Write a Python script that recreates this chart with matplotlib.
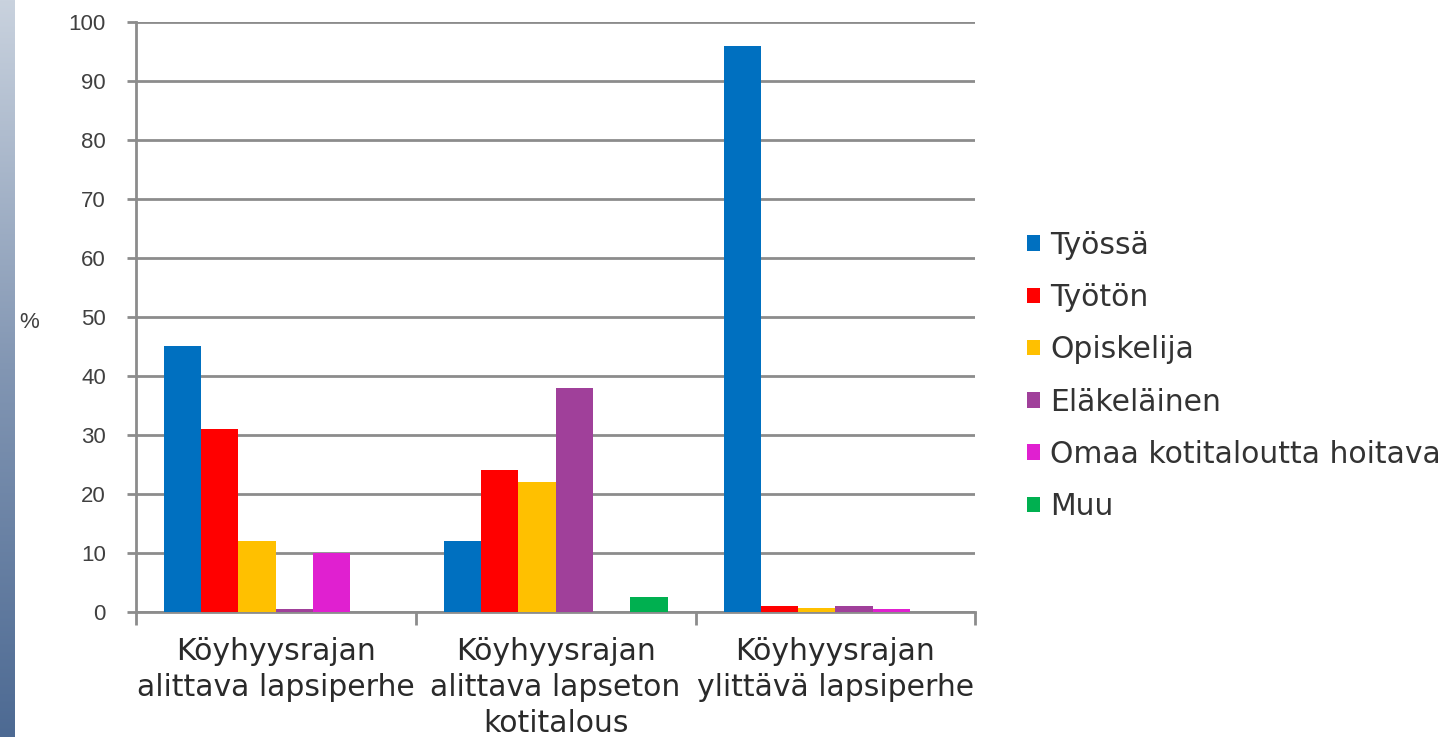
import numpy as np
import matplotlib.pyplot as plt
from matplotlib.colors import LinearSegmentedColormap

plt.rcParams['font.family'] = ['Liberation Sans', 'DejaVu Sans']

# data
categories = ["Köyhyysrajan\nalittava lapsiperhe",
              "Köyhyysrajan\nalittava lapseton\nkotitalous",
              "Köyhyysrajan\nylittävä lapsiperhe"]
series = ["Työssä", "Työtön", "Opiskelija", "Eläkeläinen",
          "Omaa kotitaloutta hoitava", "Muu"]
tyossa = [45, 12, 96]
tyoton = [31, 24, 1]
opiskelija = [12, 22, 0.7]
elakelainen = [0.5, 38, 1]
omaa = [10, 0, 0.5]
muu = [0, 2.5, 0]
colors = ["#0070C0", "#FF0000", "#FFC000", "#A0409A", "#E020D0", "#00B050"]

values = [tyossa, tyoton, opiskelija, elakelainen, omaa, muu]
wide_font = ['DejaVu Sans']

fig = plt.figure(figsize=(14.45, 7.37), dpi=100)

# left slide background strip
bg = fig.add_axes([0, 0, 0.010, 1])
grad = np.linspace(0, 1, 256).reshape(-1, 1)
bg.imshow(grad, aspect='auto', cmap=LinearSegmentedColormap.from_list(
    'bgc', ["#c9d2de", "#8296b3", "#4d6a93"]))
bg.axis('off')

ax = fig.add_axes([0.094, 0.170, 0.581, 0.800])
x = np.arange(len(categories))
n = len(series)
w = 0.8 / n
for i in range(n):
    ax.bar(x - 0.4 + w * (i + 0.5), values[i], width=w, color=colors[i],
           label=series[i], zorder=3)

ax.set_xlim(-0.5, 2.5)
ax.set_ylim(0, 100)
ax.set_yticks(range(0, 101, 10))
ax.yaxis.grid(True, color="#8c8c8c", linewidth=2, zorder=0)
ax.set_axisbelow(True)
for s in ["top", "right"]:
    ax.spines[s].set_visible(False)
ax.spines["left"].set_color("#8c8c8c")
ax.spines["left"].set_linewidth(2)
ax.spines["bottom"].set_color("#8c8c8c")
ax.spines["bottom"].set_linewidth(2)
ax.tick_params(axis='y', colors="#8c8c8c", length=6.5, width=2, labelsize=16,
               labelcolor="#404040", pad=15)
ax.set_xticks([-0.5, 0.5, 1.5, 2.5])
ax.set_xticklabels([])
ax.set_xticks(x, minor=True)
ax.set_xticklabels(categories, minor=True, fontsize=21.5, color="#2a2a2a",
                   linespacing=1.3, family=wide_font)
ax.tick_params(axis='x', which='major', colors="#8c8c8c", length=9, width=2)
ax.tick_params(axis='x', which='minor', length=0, pad=18)

fig.text(0.013, 0.563, "%", fontsize=16, color="#404040", va='center')

ax.legend(loc='center left', bbox_to_anchor=(0.711, 0.490),
          bbox_transform=fig.transFigure, frameon=False, borderpad=0,
          borderaxespad=0, prop={'family': wide_font, 'size': 21.5},
          handlelength=0.42, handleheight=0.42, handletextpad=0.35,
          labelspacing=0.78, labelcolor="#333333")

fig.savefig("out.png", dpi=100)
